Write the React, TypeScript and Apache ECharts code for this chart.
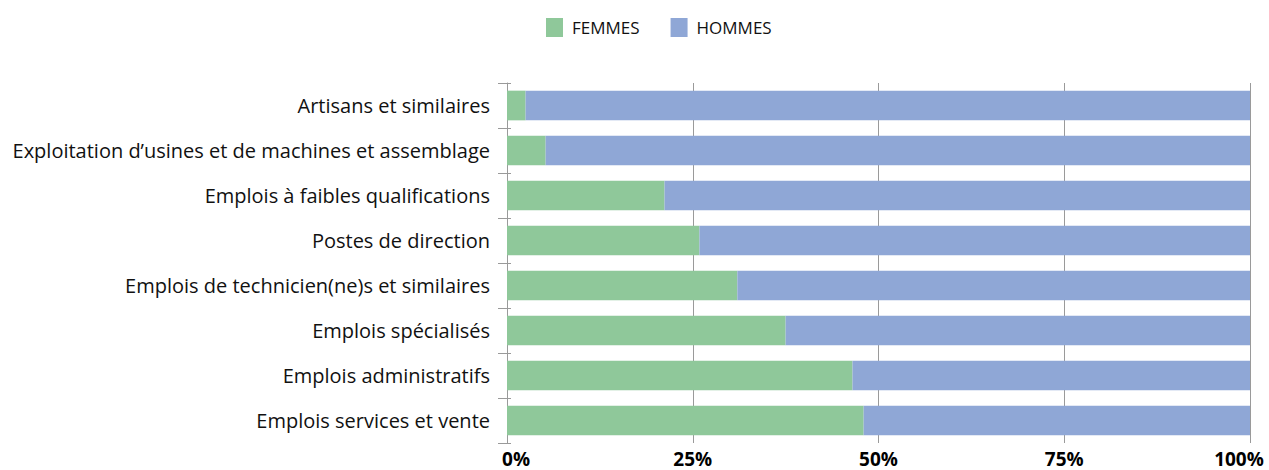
import React, { useEffect, useRef } from "react";
import * as echarts from "echarts";

const categories = [
  "Artisans et similaires",
  "Exploitation d’usines et de machines et assemblage",
  "Emplois à faibles qualifications",
  "Postes de direction",
  "Emplois de technicien(ne)s et similaires",
  "Emplois spécialisés",
  "Emplois administratifs",
  "Emplois services et vente",
];
const femmes = [2.5, 5.2, 21.2, 25.9, 31.0, 37.5, 46.5, 48.0];
const hommes = [97.5, 94.8, 78.8, 74.1, 69.0, 62.5, 53.5, 52.0];
const xTicks = ["0%", "25%", "50%", "75%", "100%"];

const GREEN = "#8fc89a";
const BLUE = "#8fa7d6";
const GRAY = "#9a9a9a";
const FONT = "'Open Sans', 'Noto Sans', sans-serif";

export default function App() {
  const ref = useRef<HTMLDivElement>(null);
  useEffect(() => {
    document.body.style.margin = "0";
    const chart = echarts.init(ref.current!, null, { renderer: "svg" });
    const xl = { fontSize: 19, lineHeight: 19, fontWeight: "bold", color: "#000", fontFamily: FONT };
    chart.setOption({
      animation: false,
      textStyle: { fontFamily: FONT },
      legend: {
        top: 18,
        left: 546,
        padding: 0,
        itemWidth: 17,
        itemHeight: 19,
        itemGap: 31,
        icon: "rect",
        textStyle: { fontSize: 17, color: "#111", fontFamily: FONT, padding: [0, 0, 0, 4] },
        data: ["FEMMES", "HOMMES"],
      },
      grid: { left: 507, right: 19, top: 83, bottom: 27, containLabel: false, outerBoundsMode: "none" },
      xAxis: {
        type: "value",
        min: 0,
        max: 100,
        interval: 25,
        axisLine: { show: false },
        axisTick: { show: false },
        splitLine: { show: true, lineStyle: { color: GRAY, width: 1 } },
        axisLabel: {
          margin: 6,
          formatter: (v: number) => {
            const i = Math.round(v / 25);
            const t = xTicks[i];
            if (i === 0) return "{first|" + t + "}";
            if (i === xTicks.length - 1) return "{last|" + t + "}";
            return "{mid|" + t + "}";
          },
          rich: {
            first: { ...xl, padding: [0, 0, 0, 18] },
            mid: { ...xl },
            last: { ...xl, padding: [0, 22, 0, 0] },
          },
        },
      },
      yAxis: [
        {
          type: "category",
          data: categories,
          inverse: true,
          position: "left",
          axisLine: { show: true, lineStyle: { color: GRAY, width: 1 } },
          axisTick: { show: true, length: 9, lineStyle: { color: GRAY } },
          axisLabel: { fontSize: 20, color: "#111", margin: 17, fontFamily: FONT },
        },
        {
          type: "category",
          data: categories,
          inverse: true,
          position: "left",
          axisLine: { show: false },
          axisTick: { show: true, inside: true, length: 4, lineStyle: { color: GRAY } },
          axisLabel: { show: false },
        },
      ],
      series: [
        {
          name: "FEMMES",
          type: "bar",
          stack: "total",
          data: femmes,
          barCategoryGap: "34%",
          itemStyle: { color: GREEN },
        },
        {
          name: "HOMMES",
          type: "bar",
          stack: "total",
          data: hommes,
          barCategoryGap: "34%",
          itemStyle: { color: BLUE },
        },
      ],
    });
    return () => chart.dispose();
  }, []);
  return <div ref={ref} style={{ width: 1269, height: 470 }} />;
}
